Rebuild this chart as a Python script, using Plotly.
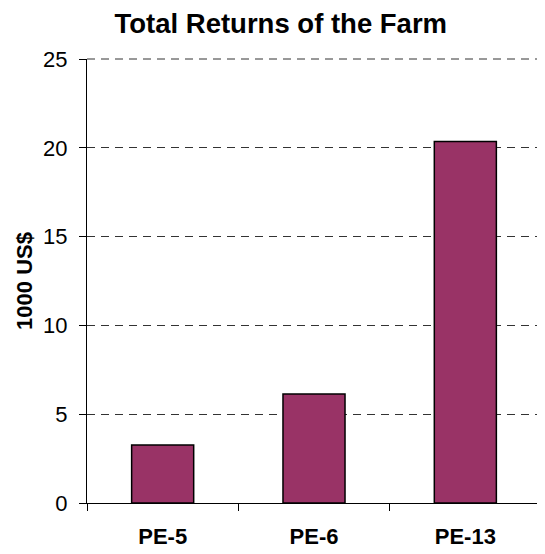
import plotly.graph_objects as go

categories = ["PE-5", "PE-6", "PE-13"]
returns = [3.27, 6.14, 20.35]
y_ticks = [0, 5, 10, 15, 20, 25]

fig = go.Figure()

fig.add_trace(
    go.Bar(
        x=categories,
        y=returns,
        marker=dict(color="#993366", line=dict(color="black", width=1.5)),
        width=0.41,
    )
)

fig.update_xaxes(
    showline=True, linecolor="black", linewidth=1,
    ticks="outside", tickson="boundaries", ticklen=7, tickcolor="black",
    tickfont=dict(family="Liberation Sans, Arial", size=22, color="black", weight="bold"),
    ticklabelstandoff=14,
)

fig.update_yaxes(
    range=[0, y_ticks[-1]], tickvals=y_ticks,
    showline=True, linecolor="black", linewidth=1,
    ticks="outside", ticklen=7, tickcolor="black",
    tickfont=dict(family="Liberation Sans, Arial", size=22, color="black"),
    ticklabelstandoff=7,
    showgrid=True, gridcolor="#333333", griddash="8px,6px", gridwidth=1,
    zeroline=False,
    title=dict(text="1000 US$", standoff=4,
               font=dict(family="Liberation Sans, Arial", size=22, color="black", weight="bold")),
)

# top gridline sits on the range edge (top of plot area), plotly skips it there
fig.add_shape(type="line", xref="paper", x0=0, x1=1, yref="paper", y0=1, y1=1,
              line=dict(color="#333333", width=1, dash="8px,6px"))

# the page body adds an 8px margin, so the figure is sized and padded to fit
fig.update_layout(
    title=dict(
        text="<b>Total Returns of the Farm</b>",
        x=0.508, xanchor="center", xref="container",
        y=0.99, yanchor="top", pad=dict(t=0),
        font=dict(family="Liberation Sans, Arial", size=27.5, color="black"),
    ),
    width=537, height=546,
    margin=dict(l=79, r=4, t=51, b=51),
    plot_bgcolor="white", paper_bgcolor="white",
    showlegend=False,
)

fig.write_html("out.html")
